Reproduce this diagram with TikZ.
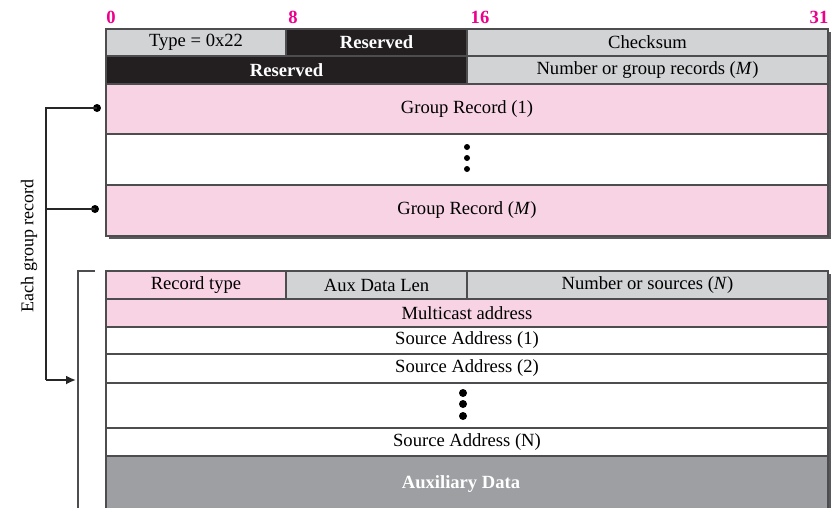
\documentclass[tikz,border=0pt]{standalone}
\usepackage{fontspec}
\setmainfont{Liberation Serif}
\usetikzlibrary{arrows.meta}
\definecolor{pinkf}{HTML}{F8D3E4}
\definecolor{grayf}{HTML}{D1D3D4}
\definecolor{blackf}{HTML}{231F20}
\definecolor{auxf}{HTML}{9D9FA2}
\definecolor{magf}{HTML}{EC008C}
\definecolor{edgec}{HTML}{4D4D4F}
\definecolor{shadowc}{HTML}{58595B}
\tikzset{
  x=1pt,y=-1pt,
  fieldbox/.style={draw=edgec,line width=1.2pt},
  lbl/.style={font=\fontsize{18.6}{20}\selectfont,inner sep=0pt},
  blbl/.style={font=\fontsize{18.6}{20}\selectfont\bfseries,inner sep=0pt,text=white},
  bitlbl/.style={font=\fontsize{18.6}{20}\selectfont\bfseries,text=magf,inner sep=0pt},
  dotmark/.style={circle,fill=black,inner sep=0pt,minimum size=6pt},
  bigdot/.style={circle,fill=black,inner sep=0pt,minimum size=8pt},
  wire/.style={line width=1.8pt,draw=black!85},
}
\begin{document}
\begin{tikzpicture}
\useasboundingbox (0,0) rectangle (833,507);
% bit labels
\node[bitlbl] (b0) at (111,17) {0};
\node[bitlbl] (b8) at (293,17) {8};
\node[bitlbl] (b16) at (480,17) {16};
\node[bitlbl] (b31) at (819,17) {31};
% shadows
\fill[shadowc] (109,32) rectangle (831,239);
\fill[shadowc] (109,274) rectangle (831,510);
% top block
\path[fieldbox,fill=grayf] (106,29) rectangle (286,56) node[midway,lbl] (type) {Type = 0x22};
\path[fieldbox,fill=blackf] (286,29) rectangle (467,56) node[midway,blbl] (res1) {Reserved};
\path[fieldbox,fill=grayf] (467,29) rectangle (828,56) node[midway,lbl] (csum) {Checksum};
\path[fieldbox,fill=blackf] (106,56) rectangle (467,84) node[midway,blbl] (res2) {Reserved};
\path[fieldbox,fill=grayf] (467,56) rectangle (828,84) node[midway,lbl] (ngr) {Number or group records (\textit{M})};
\path[fieldbox,fill=pinkf] (106,84) rectangle (828,134) node[midway,lbl] (gr1) {Group Record (1)};
\path[fieldbox,fill=white] (106,134) rectangle (828,185) node[midway] (gdots) {};
\path[fieldbox,fill=pinkf] (106,185) rectangle (828,236) node[midway,lbl] (grm) {Group Record (\textit{M})};
\node[dotmark] (d1) at (467,147) {};
\node[dotmark] (d2) at (467,158) {};
\node[dotmark] (d3) at (467,169) {};
% bottom block
\path[fieldbox,fill=pinkf] (106,271) rectangle (286,299) node[midway,lbl] (rtype) {Record type};
\path[fieldbox,fill=grayf] (286,271) rectangle (467,299) node[midway,lbl] (auxlen) {Aux Data Len};
\path[fieldbox,fill=grayf] (467,271) rectangle (828,299) node[midway,lbl] (nsrc) {Number or sources (\textit{N})};
\path[fieldbox,fill=pinkf] (106,299) rectangle (828,327) node[midway,lbl] (mcast) {Multicast address};
\path[fieldbox,fill=white] (106,327) rectangle (828,354) node[midway,lbl] (sa1) {Source Address (1)};
\path[fieldbox,fill=white] (106,354) rectangle (828,383) node[midway,lbl] (sa2) {Source Address (2)};
\path[fieldbox,fill=white] (106,383) rectangle (828,428) node[midway] (sdots) {};
\path[fieldbox,fill=white] (106,428) rectangle (828,456) node[midway,lbl] (san) {Source Address (N)};
\path[fieldbox,fill=auxf] (106,456) rectangle (828,512) node[blbl] (aux) at (461,484) {Auxiliary Data};
\node[bigdot] (e1) at (463,393) {};
\node[bigdot] (e2) at (463,404) {};
\node[bigdot] (e3) at (463,416) {};
% bracket on left of bottom block
\coordinate (brtop) at (95,271);
\coordinate (brcorner) at (78,271);
\coordinate (brbot) at (78,510);
\draw[edgec,line width=1.2pt] (brtop) -- (brcorner) -- (brbot);
% connector
\coordinate (p1) at (97,108);
\coordinate (p2) at (95,209);
\coordinate (ctop) at (46,108);
\coordinate (cmid) at (46,209);
\coordinate (cbot) at (46,380);
\coordinate (cend) at (76,380);
\node[bigdot] (dot1) at (p1) {};
\node[bigdot] (dot2) at (p2) {};
\draw[wire] (dot1.center) -- (ctop) -- (cbot);
\draw[wire] (dot2.center) -- (cmid);
\draw[wire,-{Latex[length=10pt,width=9pt]}] (cbot) -- (cend);
\node[lbl,rotate=90,font=\fontsize{18}{20}\selectfont] (each) at (29,246) {Each group record};
\end{tikzpicture}
\end{document}
